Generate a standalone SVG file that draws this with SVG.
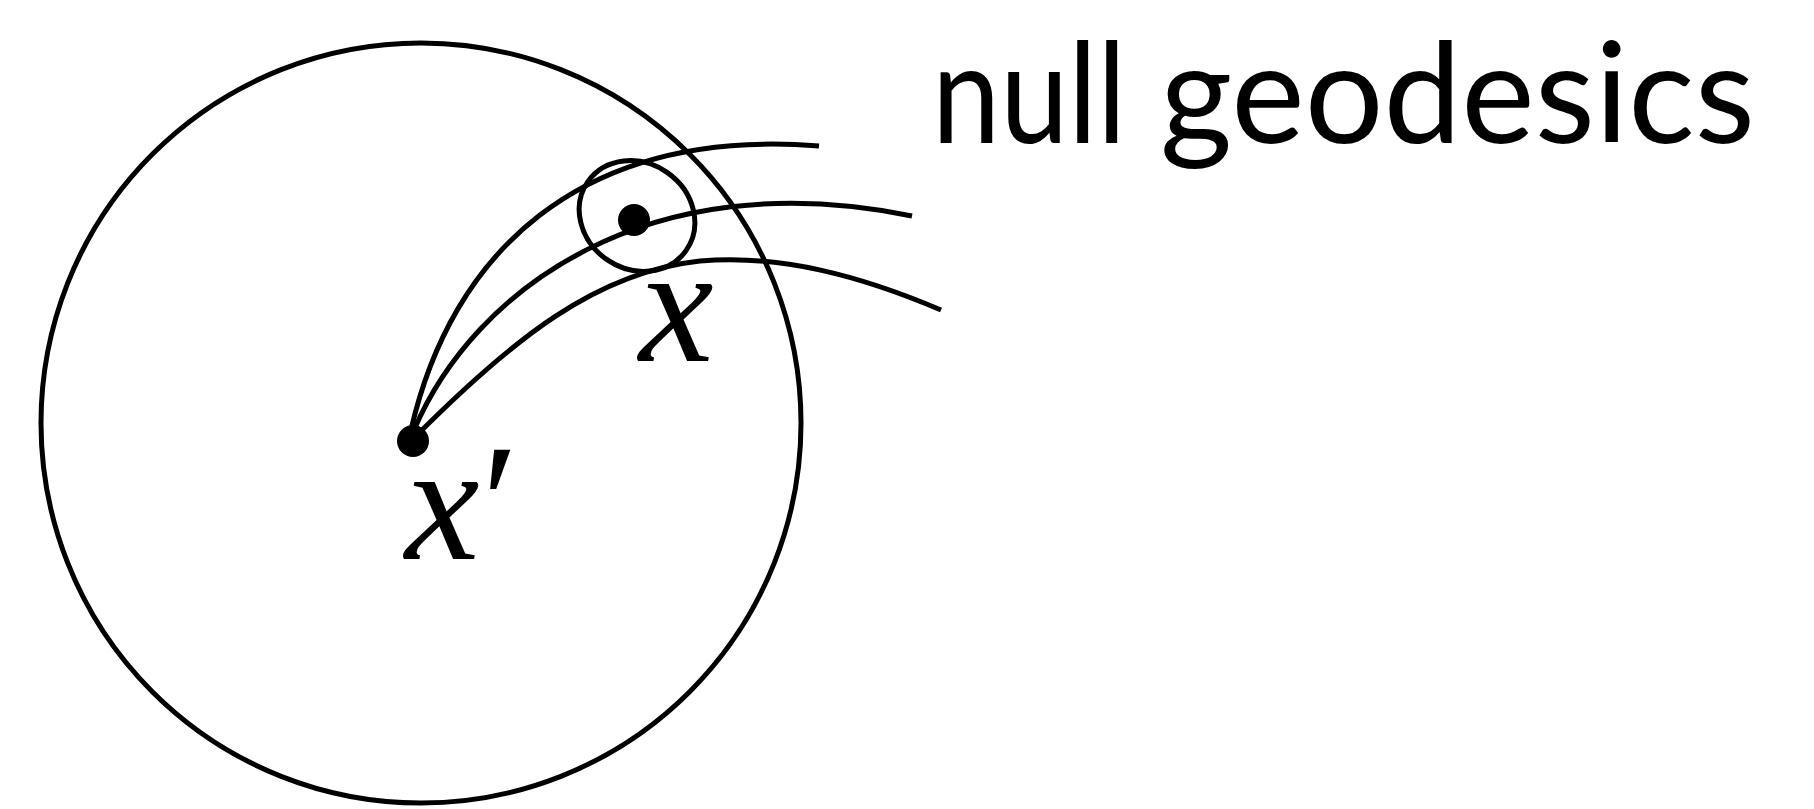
<svg xmlns="http://www.w3.org/2000/svg" width="1814" height="809" viewBox="0 0 1814 809">
<style>
.ln{fill:none;stroke:#000;stroke-width:5}
.dot{fill:#000}
.lbl{font-family:"Liberation Serif","Times New Roman",serif;font-style:italic;fill:#000}
.title{font-family:Lato,"Liberation Sans",sans-serif;font-weight:400;fill:#000}
</style>
<rect width="1814" height="809" fill="#fff"/>
<g id="region">
<circle class="ln" cx="421" cy="423" r="380"/>
</g>
<g id="connectors">
<path class="ln" d="M411,430 C451,255 578,127 819,146"/>
<path class="ln" d="M414,430 C474,289 648,162 912,216"/>
<path class="ln" d="M418,434 C512,340 596,272 700,261 C780,254 861,276 941,310"/>
</g>
<g id="neighbourhood">
<ellipse class="ln" cx="637" cy="216" rx="60" ry="53" transform="rotate(35 637 216)"/>
</g>
<g id="node-x">
<circle class="dot" cx="634" cy="220" r="16"/>
<text class="lbl" x="639" y="361" font-size="168">x</text>
</g>
<g id="node-xprime">
<circle class="dot" cx="413" cy="441" r="16"/>
<text class="lbl" x="405" y="559" font-size="168" letter-spacing="-8">x′</text>
</g>
<g id="title">
<text class="title" x="932" y="143" font-size="140" textLength="194" lengthAdjust="spacingAndGlyphs">null</text>
<text class="title" x="1160" y="143" font-size="140" textLength="595" lengthAdjust="spacingAndGlyphs">geodesics</text>
</g>
</svg>
